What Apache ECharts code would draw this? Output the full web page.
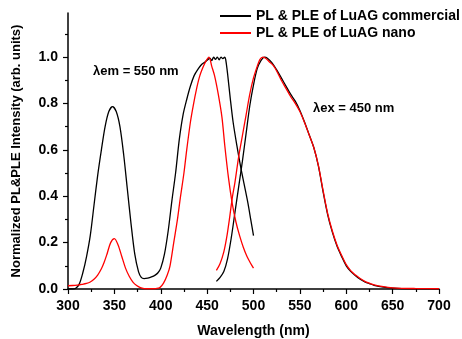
<!DOCTYPE html>
<html>
<head>
<meta charset="utf-8">
<script src="https://cdn.jsdelivr.net/npm/echarts@6/dist/echarts.min.js"></script>
<style>html,body{margin:0;padding:0;background:#fff}#c{width:462px;height:339px}</style>
</head>
<body>
<div id="c"></div>
<script>
// Commercial (black) PLE
const comPLE_x = [300,305,308,312,316,320,324,328,332,336,340,344,348,352,356,360,364,368,372,376,379,382,386,390,394,397,400,404,408,412,416,420,424,428,432,436,440,444,448,451,453,455,457,459,461,463,465,467,469,470,472,475,478,482,486,490,494,497,500];
const comPLE_y = [0,0,0.002,0.02,0.07,0.14,0.23,0.36,0.49,0.6,0.7,0.765,0.786,0.765,0.7,0.58,0.43,0.28,0.15,0.075,0.05,0.045,0.047,0.052,0.06,0.07,0.09,0.15,0.25,0.38,0.5,0.645,0.75,0.817,0.875,0.92,0.947,0.968,0.98,0.99,0.995,0.985,1.0,0.99,1.0,0.988,1.0,0.993,1.0,0.99,0.93,0.82,0.72,0.62,0.53,0.45,0.37,0.3,0.23];
// Commercial (black) PL
const comPL_x = [460,464,468,472,476,480,484,488,492,496,500,504,508,512,515,520,525,530,535,540,545,550,555,560,565,570,575,580,585,590,595,600,605,610,615,620,625,630,640,650,660,675,700];
const comPL_y = [0.033,0.05,0.075,0.13,0.22,0.33,0.44,0.55,0.67,0.79,0.88,0.95,0.985,1.0,0.995,0.975,0.945,0.91,0.875,0.84,0.81,0.77,0.72,0.665,0.61,0.53,0.42,0.32,0.245,0.185,0.14,0.1,0.075,0.057,0.042,0.031,0.023,0.016,0.008,0.004,0.002,0.001,0];
// Nano (red) PLE
const nanoPLE_x = [300,305,310,315,320,324,328,332,336,339,342,346,350,354,358,362,366,370,374,378,382,386,390,395,399,403,407,410,414,418,421,425,428,432,435,439,442,446,449,452,455,458,462,466,469,473,477,481,485,489,493,497,500];
const nanoPLE_y = [0.014,0.015,0.017,0.02,0.024,0.03,0.042,0.06,0.087,0.115,0.15,0.2,0.217,0.19,0.14,0.09,0.055,0.03,0.015,0.006,0.002,0.001,0.001,0.002,0.006,0.025,0.06,0.1,0.2,0.3,0.39,0.5,0.6,0.72,0.79,0.87,0.918,0.96,0.985,1.0,0.96,0.92,0.84,0.74,0.62,0.48,0.37,0.29,0.23,0.18,0.14,0.11,0.09];
// Nano (red) PL
const nanoPL_x = [460,464,468,471,474,477,480,484,488,492,496,500,504,507,510,513,517,521,525,530,535,540,545,550,555,560,565,570,575,580,585,590,595,600,605,610,615,620,625,630,640,650,660,675,700];
const nanoPL_y = [0.08,0.11,0.16,0.22,0.3,0.39,0.46,0.57,0.66,0.75,0.84,0.91,0.96,0.99,1.0,0.995,0.98,0.965,0.94,0.9,0.865,0.83,0.8,0.765,0.718,0.665,0.61,0.532,0.425,0.325,0.25,0.19,0.145,0.105,0.078,0.06,0.045,0.033,0.025,0.018,0.01,0.005,0.003,0.002,0.001];

const xTicks = [300,350,400,450,500,550,600,650,700];
const yTicks = [0,0.2,0.4,0.6,0.8,1.0];
const yMinorTicks = [0.1,0.3,0.5,0.7,0.9,1.1];
const seriesNames = ['PL & PLE of LuAG commercial','PL & PLE of LuAG nano'];
const annotations = ['\u03bbem = 550 nm','\u03bbex = 450 nm'];

const zip = (xs, ys) => xs.map((x, i) => [x, ys[i]]);
const FONT = '"Liberation Sans", Arial, sans-serif';

const chart = echarts.init(document.getElementById('c'), null, {renderer: 'canvas'});
const lineBase = {type: 'line', symbol: 'none', showSymbol: false, smooth: 0.3, animation: false, z: 3};
chart.setOption({
  animation: false,
  backgroundColor: '#fff',
  grid: {left: 68, right: 23, top: 13, bottom: 50, containLabel: false, outerBoundsMode: 'none'},
  legend: {
    orient: 'vertical', left: 219, top: 9, padding: 0, itemWidth: 31, itemHeight: 14, itemGap: 3,
    data: seriesNames,
    itemStyle: {opacity: 0},
    textStyle: {fontFamily: FONT, fontWeight: 'bold', fontSize: 14, color: '#000', overflow: 'none'}
  },
  xAxis: {
    type: 'value', min: 300, max: 700, interval: 50,
    name: 'Wavelength (nm)', nameLocation: 'middle', nameGap: 35,
    nameTextStyle: {fontFamily: FONT, fontWeight: 'bold', fontSize: 14, color: '#000'},
    axisLine: {lineStyle: {color: '#000', width: 1.5}},
    axisTick: {show: true, length: 5, inside: false, lineStyle: {color: '#000', width: 1.2}},
    minorTick: {show: true, splitNumber: 2, length: 3, lineStyle: {color: '#000', width: 1.2}},
    axisLabel: {fontFamily: FONT, fontWeight: 'bold', fontSize: 14, color: '#000', margin: 10,
      customValues: xTicks},
    splitLine: {show: false}
  },
  yAxis: [{
    type: 'value', min: 0, max: 1.19, position: 'left',
    name: 'Normalized PL&PLE Intensity (arb. units)', nameLocation: 'middle', nameGap: 45,
    nameTextStyle: {fontFamily: FONT, fontWeight: 'bold', fontSize: 13, color: '#000'},
    axisLine: {show: true, lineStyle: {color: '#000', width: 1.5}},
    axisTick: {show: true, length: 5, customValues: yTicks, lineStyle: {color: '#000', width: 1.2}},
    axisLabel: {fontFamily: FONT, fontWeight: 'bold', fontSize: 14, color: '#000', margin: 10,
      customValues: yTicks, formatter: v => v.toFixed(1)},
    splitLine: {show: false}
  }, {
    type: 'value', min: 0, max: 1.19, position: 'left', offset: 0,
    axisLine: {show: false},
    axisTick: {show: true, length: 3, customValues: yMinorTicks, lineStyle: {color: '#000', width: 1.2}},
    axisLabel: {show: false},
    splitLine: {show: false}
  }],
  graphic: [
    {type: 'text', left: 93, top: 65, style: {text: annotations[0], font: 'bold 13px ' + FONT, fill: '#000'}},
    {type: 'text', left: 313, top: 102, style: {text: annotations[1], font: 'bold 13px ' + FONT, fill: '#000'}}
  ],
  series: [
    Object.assign({}, lineBase, {name: seriesNames[0], data: zip(comPLE_x, comPLE_y), lineStyle: {color: '#000', width: 1.3}, itemStyle: {color: '#000'}}),
    Object.assign({}, lineBase, {name: seriesNames[0], data: zip(comPL_x, comPL_y), lineStyle: {color: '#000', width: 1.3}, itemStyle: {color: '#000'}}),
    Object.assign({}, lineBase, {name: seriesNames[1], data: zip(nanoPLE_x, nanoPLE_y), lineStyle: {color: '#ff0000', width: 1.3}, itemStyle: {color: '#ff0000'}}),
    Object.assign({}, lineBase, {name: seriesNames[1], data: zip(nanoPL_x, nanoPL_y), lineStyle: {color: '#ff0000', width: 1.3}, itemStyle: {color: '#ff0000'}})
  ]
});
</script>
</body>
</html>
